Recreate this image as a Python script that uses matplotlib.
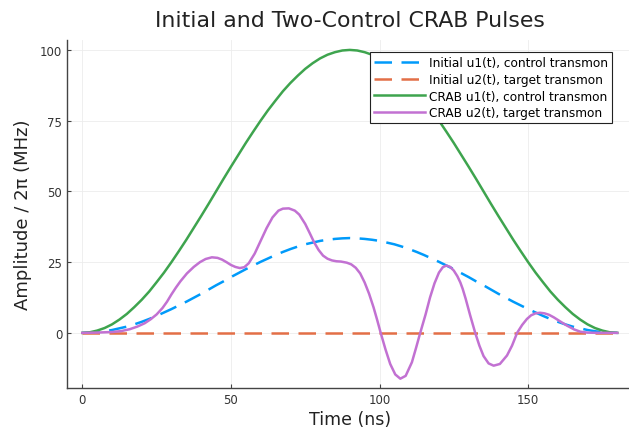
import matplotlib.pyplot as plt
import numpy as np

# time grid (ns) for the smooth pulses
t = [0, 2.5, 5, 7.5, 10, 12.5, 15, 17.5, 20, 22.5, 25, 27.5, 30, 32.5, 35, 37.5, 40, 42.5, 45,
     47.5, 50, 52.5, 55, 57.5, 60, 62.5, 65, 67.5, 70, 72.5, 75, 77.5, 80, 82.5, 85, 87.5, 90,
     92.5, 95, 97.5, 100, 102.5, 105, 107.5, 110, 112.5, 115, 117.5, 120, 122.5, 125, 127.5, 130,
     132.5, 135, 137.5, 140, 142.5, 145, 147.5, 150, 152.5, 155, 157.5, 160, 162.5, 165, 167.5,
     170, 172.5, 175, 177.5, 180]

init_u1 = [0, 0.06, 0.25, 0.57, 1.0, 1.6, 2.2, 3.0, 3.9, 4.9, 6.0, 7.2, 8.4, 9.7, 11.0, 12.4,
           13.8, 15.3, 16.8, 18.2, 19.7, 21.1, 22.5, 23.8, 25.1, 26.3, 27.5, 28.6, 29.6, 30.5,
           31.3, 31.9, 32.5, 32.9, 33.2, 33.4, 33.5,
           33.4, 33.2, 32.9, 32.5, 31.9, 31.3, 30.5, 29.6, 28.6, 27.5, 26.3, 25.1, 23.8, 22.5,
           21.1, 19.7, 18.2, 16.8, 15.3, 13.8, 12.4, 11.0, 9.7, 8.4, 7.2, 6.0, 4.9, 3.9, 3.0,
           2.2, 1.6, 1.0, 0.57, 0.25, 0.06, 0]
init_u2 = [0] * len(t)
crab_u1 = [0, 0.19, 0.8, 1.7, 3.0, 4.7, 6.7, 9.1, 11.7, 14.6, 17.9, 21.3, 25.0, 28.9, 32.9,
           37.1, 41.3, 45.6, 50.0, 54.4, 58.7, 62.9, 67.1, 71.1, 75.0, 78.7, 82.1, 85.4, 88.3,
           90.9, 93.3, 95.3, 97.0, 98.3, 99.2, 99.8, 100,
           99.8, 99.2, 98.3, 97.0, 95.3, 93.3, 90.9, 88.3, 85.4, 82.1, 78.7, 75.0, 71.1, 67.1,
           62.9, 58.7, 54.4, 50.0, 45.6, 41.3, 37.1, 32.9, 28.9, 25.0, 21.3, 17.9, 14.6, 11.7,
           9.1, 6.7, 4.7, 3.0, 1.7, 0.8, 0.19, 0]

# CRAB u2 read point by point
t2 = [0, 5, 10, 13, 16, 18.5, 21, 23, 25, 27, 28.5, 30, 31.5, 33, 35.2, 37.5, 39.6, 41.5, 43.6,
      45.5, 47, 48.5, 50, 51.5, 53, 54.5, 56, 58, 60, 62, 64, 66, 67.5, 69.5, 71.5, 73, 75, 76.5,
      78, 79.5, 81, 82.5, 84, 85.5, 87, 89, 90.5, 92, 93.5, 95, 96.5, 98, 99.2, 100.4, 102,
      103.6, 105.3, 107, 108.8, 110.9, 112.3, 113.7, 115.5, 117, 118.5, 120, 121.3, 122.5, 123.8,
      125, 126.2, 127.2, 128, 129, 130.5, 132.2, 133.6, 135, 136.7, 138.4, 140.5, 142.9, 144.6,
      146.3, 148, 149.6, 151, 152.5, 154, 155.5, 157, 158.6, 161, 163, 165.5, 167.6, 170, 173,
      176, 180]
crab_u2 = [0, 0.1, 0.3, 0.6, 1.3, 2.2, 3.4, 4.8, 6.5, 8.8, 11.0, 13.6, 16.0, 18.2, 21.0, 23.3,
           25.0, 26.1, 26.7, 26.5, 25.9, 25.0, 24.0, 23.3, 22.9, 23.2, 24.6, 28.0, 32.5, 37.0,
           40.8, 43.2, 43.9, 44.0, 43.2, 41.8, 38.5, 35.3, 32.0, 29.3, 27.3, 26.2, 25.6, 25.3,
           25.2, 24.8, 24.2, 23.0, 21.0, 17.8, 13.8, 9.0, 4.6, 0, -5.8,
           -11.0, -14.7, -16.2, -15.2, -10.4, -5.3, 0, 6.5, 12.5, 17.5, 21.3, 23.2, 23.8, 23.3,
           22.0, 20.0, 17.8, 15.5, 12.0, 6.2, 0, -4.5, -8.2, -10.8, -11.6, -11.0, -8.0, -4.5,
           0, 2.8, 4.9, 6.2, 6.9, 7.1, 6.9, 6.4, 5.5, 3.9, 2.6, 1.2, 0.4, 0.08, 0,
           0, 0]

labels = ["Initial u1(t), control transmon", "Initial u2(t), target transmon",
          "CRAB u1(t), control transmon", "CRAB u2(t), target transmon"]

fig = plt.figure(figsize=(6.29, 4.35), dpi=100)
ax = fig.add_axes([0.1065, 0.1057, 0.8992, 0.8])

ax.plot(t, init_u1, color='#009AFA', lw=1.8, dashes=(7, 3.8), label=labels[0])
ax.plot(t, init_u2, color='#E36F47', lw=1.8, dashes=(7, 3.8), label=labels[1])
ax.plot(t, crab_u1, color='#3EA44E', lw=1.8, label=labels[2])
ax.plot(t2, crab_u2, color='#C271D2', lw=1.8, label=labels[3])

ax.set_xlim(-5.15, 185.15)
ax.set_ylim(-19.5, 103.5)
ax.set_xticks([0, 50, 100, 150])
ax.set_yticks([0, 25, 50, 75, 100])
ax.grid(True, color='#ececec', lw=0.6)
ax.set_axisbelow(True)
for s in ['top', 'right']:
    ax.spines[s].set_visible(False)
for s in ['left', 'bottom']:
    ax.spines[s].set_color('#444444')
    ax.spines[s].set_linewidth(1.0)
ax.tick_params(direction='in', length=3, color='#444444', labelsize=8.5, labelcolor='#333333')

ax.set_xlabel("Time (ns)", fontsize=12.5, color='#222222', labelpad=3)
ax.set_ylabel("Amplitude / 2π (MHz)", fontsize=13, color='#222222', labelpad=6)
ax.set_title("Initial and Two-Control CRAB Pulses", fontsize=15.8, color='#222222', pad=10)

leg = ax.legend(loc='upper right', bbox_to_anchor=(0.9636, 0.9655), borderaxespad=0,
                fontsize=8.7, fancybox=False, framealpha=1, edgecolor='#222222',
                handlelength=4.2, handletextpad=0.3, labelspacing=0.3, borderpad=0.35)
leg.get_frame().set_linewidth(0.8)

fig.savefig('out.png', dpi=100)
